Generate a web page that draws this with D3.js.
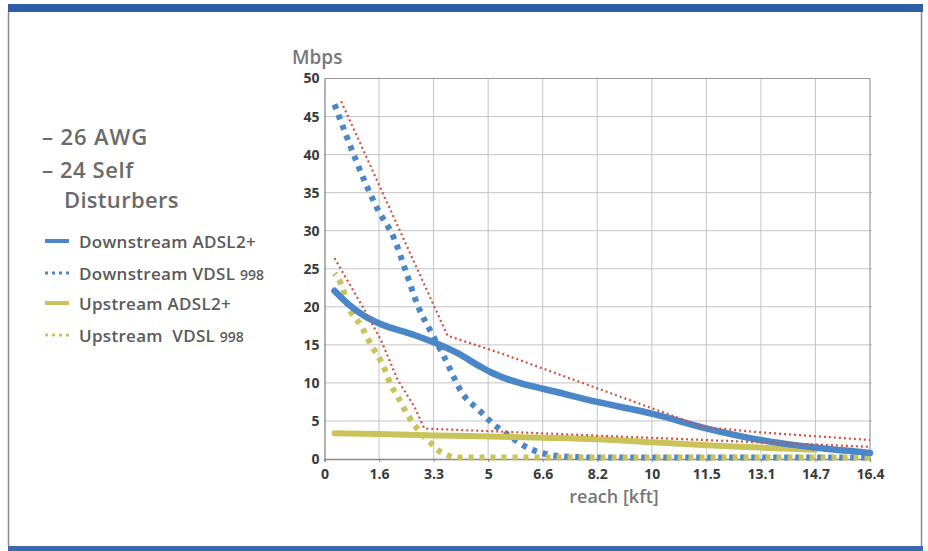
<!DOCTYPE html>
<html>
<head>
<meta charset="utf-8">
<script src="https://cdn.jsdelivr.net/npm/d3@7"></script>
<style>
  html, body { margin: 0; padding: 0; background: #fff; }
  svg { display: block; }
  text { font-family: "Open Sans", "Noto Sans", sans-serif; }
</style>
</head>
<body>
<svg id="chart" width="928" height="551"></svg>
<script>
// ---------- data ----------
const xTickLabels = ["0", "1.6", "3.3", "5", "6.6", "8.2", "10", "11.5", "13.1", "14.7", "16.4"];
const yTicks = [0, 5, 10, 15, 20, 25, 30, 35, 40, 45, 50];

// [reach kft, Mbps]
const downstreamADSL = [[0.3,22.1],[0.7,20.4],[1.2,18.8],[1.65,17.8],[2.7,16.3],[3.3,15.3],[4.0,13.9],[4.7,12.1],[5.0,11.4],[5.5,10.5],[6.2,9.6],[6.6,9.2],[8.2,7.5],[9.9,5.9],[11.5,4.0],[13.1,2.5],[14.75,1.5],[16.4,0.8]];
const downstreamVDSL = [[0.3,46.6],[1.6,32.8],[2.1,28.9],[2.45,24.6],[2.8,20.2],[3.25,16.3],[3.6,13.4],[4.15,8.6],[4.7,6.2],[4.95,5.1],[5.5,3.2],[6.1,1.5],[6.7,0.6],[7.3,0.3],[8.2,0.2],[16.4,0.2]];
const upstreamADSL = [[0.3,3.4],[1.6,3.3],[3.3,3.1],[5.0,2.95],[6.6,2.8],[8.2,2.6],[9.85,2.2],[11.5,1.8],[13.1,1.5],[14.75,1.2]];
const upstreamVDSL = [[0.3,24.4],[0.5,23.0],[0.7,20.2],[1.1,17.5],[1.4,15.0],[1.75,12.4],[2.0,9.7],[2.2,8.2],[2.5,5.8],[2.7,4.5],[2.9,3.4],[3.15,2.3],[3.4,1.2],[3.7,0.5],[4.0,0.2],[16.4,0.2]];
const limitDown = [[0.5,47.0],[3.7,16.2],[5.3,13.9],[11.4,4.2],[13.1,3.5],[16.4,2.5]];
const limitUp = [[0.3,26.4],[1.2,19.6],[1.7,15.6],[2.2,10.4],[2.7,6.9],[3.0,4.0],[5.3,3.6],[16.4,1.6]];

const legendItems = [
  { name: "Downstream ADSL2+", suffix: "", color: "#4a86c8", dotted: false },
  { name: "Downstream VDSL ", suffix: "998", color: "#4a86c8", dotted: true },
  { name: "Upstream ADSL2+", suffix: "", color: "#c9c35a", dotted: false },
  { name: "Upstream  VDSL ", suffix: "998", color: "#c9c35a", dotted: true }
];

// ---------- drawing ----------
const svg = d3.select("#chart");
const BLUE = "#4a86c8", YELLOW = "#c9c35a", RED = "#d5503f";

// page frame
const frame = svg.append("g");
frame.append("rect").attr("x", 8).attr("y", 4).attr("width", 915).attr("height", 8).attr("fill", "#2f5da8");
frame.append("rect").attr("x", 8).attr("y", 546).attr("width", 915).attr("height", 5).attr("fill", "#3d68ad");
frame.append("line").attr("x1", 8.5).attr("x2", 8.5).attr("y1", 12).attr("y2", 546).attr("stroke", "#8a8a8a").attr("stroke-width", 1.5);
frame.append("line").attr("x1", 921.5).attr("x2", 921.5).attr("y1", 12).attr("y2", 546).attr("stroke", "#8a8a8a").attr("stroke-width", 1.5);

const pLeft = 324.5, pRight = 870, pTop = 78.5, pBottom = 459;
const x = d3.scaleLinear().domain([0, 16.4]).range([pLeft, pRight]);
const y = d3.scaleLinear().domain([0, 50]).range([pBottom, pTop]);
const xTickVals = xTickLabels.map((_, i) => i * 1.64);

// grid
const grid = svg.append("g");
grid.selectAll(".vg").data(xTickVals.slice(1, -1)).join("line")
  .attr("x1", d => x(d)).attr("x2", d => x(d)).attr("y1", pTop).attr("y2", pBottom)
  .attr("stroke", "#c4c4c4").attr("stroke-width", 1);
grid.selectAll(".hg").data(yTicks.slice(1, -1)).join("line")
  .attr("x1", pLeft).attr("x2", pRight + 2).attr("y1", d => y(d)).attr("y2", d => y(d))
  .attr("stroke", "#c4c4c4").attr("stroke-width", 1);
grid.append("line").attr("x1", pLeft).attr("x2", pRight).attr("y1", pTop).attr("y2", pTop).attr("stroke", "#999").attr("stroke-width", 1.2);
grid.append("line").attr("x1", pRight).attr("x2", pRight).attr("y1", pTop).attr("y2", pBottom).attr("stroke", "#999").attr("stroke-width", 1.2);

// axes
const xAxis = d3.axisBottom(x).tickValues(xTickVals).tickFormat((d, i) => xTickLabels[i]).tickSize(3).tickPadding(7);
const yAxis = d3.axisLeft(y).tickValues(yTicks).tickSize(0).tickPadding(5);
const gx = svg.append("g").attr("transform", `translate(0,${pBottom})`).call(xAxis);
const gy = svg.append("g").attr("transform", `translate(${pLeft},0)`).call(yAxis);
[gx, gy].forEach(g => {
  g.select(".domain").attr("stroke", "#888").attr("stroke-width", 1.3);
  g.selectAll(".tick line").attr("stroke", "#888");
  g.selectAll(".tick text").attr("fill", "#3a3a3a").attr("font-size", 14).attr("font-weight", 700)
    .style("font-family", "'Open Sans', sans-serif");
});

// axis titles
svg.append("text").attr("x", 292).attr("y", 64).text("Mbps")
  .attr("fill", "#777").attr("font-size", 19).attr("font-weight", 600);
svg.append("text").attr("x", 614).attr("y", 503).attr("text-anchor", "middle").text("reach [kft]")
  .attr("fill", "#777").attr("font-size", 18).attr("font-weight", 600);

// series
const smooth = d3.line().x(d => x(d[0])).y(d => y(d[1])).curve(d3.curveMonotoneX);
const straight = d3.line().x(d => x(d[0])).y(d => y(d[1]));
const plot = svg.append("g");

plot.append("path").attr("d", smooth(downstreamVDSL)).attr("fill", "none")
  .attr("stroke", BLUE).attr("stroke-width", 6).attr("stroke-dasharray", "5,6");
plot.append("path").attr("d", smooth(upstreamVDSL)).attr("fill", "none")
  .attr("stroke", YELLOW).attr("stroke-width", 6).attr("stroke-dasharray", "5,6").attr("stroke-dashoffset", 3);
plot.append("path").attr("d", smooth(upstreamADSL)).attr("fill", "none")
  .attr("stroke", YELLOW).attr("stroke-width", 6).attr("stroke-linecap", "round");
plot.append("path").attr("d", smooth(downstreamADSL)).attr("fill", "none")
  .attr("stroke", BLUE).attr("stroke-width", 6.5).attr("stroke-linecap", "round");
[limitDown, limitUp].forEach(s => {
  plot.append("path").attr("d", straight(s)).attr("fill", "none")
    .attr("stroke", RED).attr("stroke-width", 2.2).attr("stroke-dasharray", "2,3");
});

// left-hand title text
const head = svg.append("g").attr("fill", "#6a6a6a").attr("font-size", 22).attr("font-weight", 600);
head.append("text").attr("x", 42).attr("y", 145).attr("letter-spacing", 0.9).text("– 26 AWG");
head.append("text").attr("x", 42).attr("y", 178).attr("letter-spacing", 0.6).text("– 24 Self");
head.append("text").attr("x", 64).attr("y", 208).attr("letter-spacing", 0.3).text("Disturbers");

// legend
const legendY = [241, 273, 303, 335];
const leg = svg.append("g").selectAll("g").data(legendItems).join("g")
  .attr("transform", (d, i) => `translate(0,${legendY[i]})`);
leg.append("line").attr("x1", 45).attr("x2", 69).attr("y1", 0).attr("y2", 0)
  .attr("stroke", d => d.color).attr("stroke-width", d => d.dotted ? 3 : 4)
  .attr("stroke-dasharray", d => d.dotted ? "3,4" : null);
const lt = leg.append("text").attr("x", 79).attr("y", 6.5).attr("fill", "#5a5a5a")
  .attr("font-size", 17).attr("letter-spacing", 0.3).attr("font-weight", 600).attr("xml:space", "preserve");
lt.append("tspan").text(d => d.name);
lt.append("tspan").attr("font-size", 14).attr("letter-spacing", 0).text(d => d.suffix);
</script>
</body>
</html>
